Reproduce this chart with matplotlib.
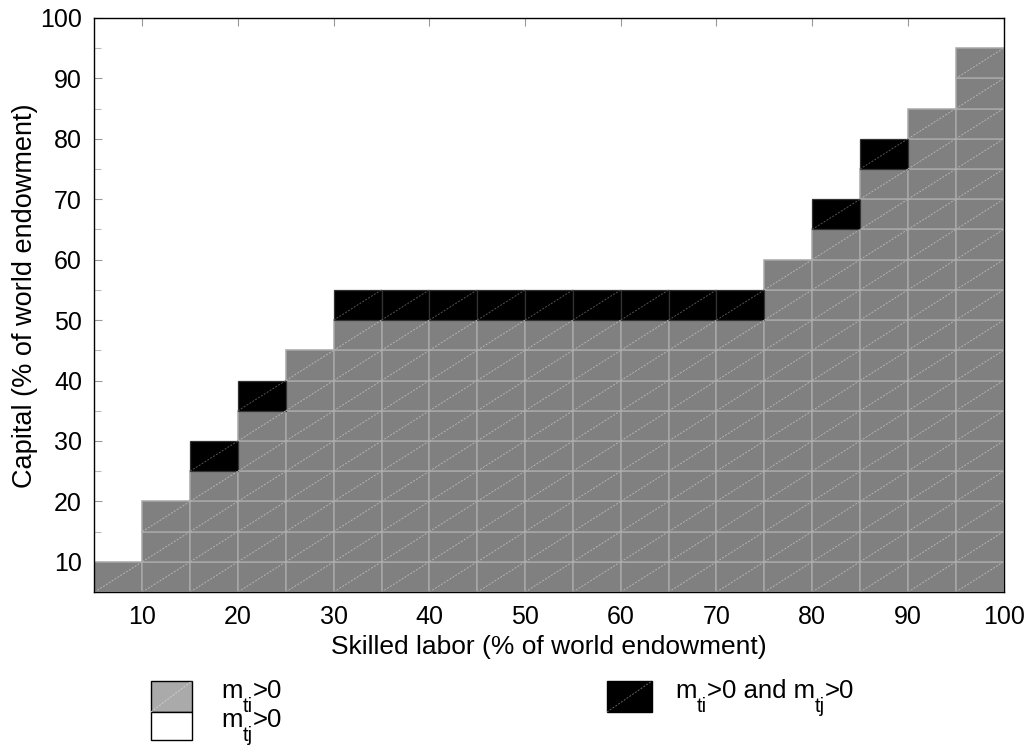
import numpy as np
import matplotlib
matplotlib.use("Agg")
import matplotlib.pyplot as plt
from matplotlib.patches import Rectangle
from matplotlib.collections import LineCollection

plt.rcParams["font.family"] = ["Liberation Sans", "DejaVu Sans"]

# skilled labor cell left edges (% of world endowment)
skilled = [5, 10, 15, 20, 25, 30, 35, 40, 45, 50, 55, 60, 65, 70, 75, 80, 85, 90, 95]
# top of region where m_ti>0 only
grey_top = [10, 20, 25, 35, 45, 50, 50, 50, 50, 50, 50, 50, 50, 50, 60, 65, 75, 85, 95]
# one extra cell above with m_ti>0 and m_tj>0
both = [0, 0, 1, 1, 0, 1, 1, 1, 1, 1, 1, 1, 1, 1, 0, 1, 1, 0, 0]

step = 5
y0 = 5

fig = plt.figure(figsize=(10.31, 7.46), dpi=100)
ax = fig.add_axes([0.0916, 0.2064, 0.8818, 0.7695])

gx, gy = [], []
bx, by = [], []
for x, top, b in zip(skilled, grey_top, both):
    for y in np.arange(y0, top, step):
        gx.append(x)
        gy.append(y)
    if b:
        bx.append(x)
        by.append(top)
gx, gy, bx, by = map(np.array, (gx, gy, bx, by))

ax.bar(gx, step, bottom=gy, width=step, align="edge", color="#808080",
       edgecolor="#a8a8a8", linewidth=1.1, zorder=2)
ax.bar(bx, step, bottom=by, width=step, align="edge", color="#000000",
       edgecolor="#333333", linewidth=0.9, zorder=2)

diag_g = [[(x, y), (x + step, y + step)] for x, y in zip(gx, gy)]
diag_b = [[(x, y), (x + step, y + step)] for x, y in zip(bx, by)]
ax.add_collection(LineCollection(diag_g, colors="#b4b4b4", linewidths=0.7,
                                 linestyles=(0, (2, 1.5)), zorder=3))
ax.add_collection(LineCollection(diag_b, colors="#555555", linewidths=0.7,
                                 linestyles=(0, (2, 1.5)), zorder=3))

ax.set_xlim(5, 100)
ax.set_ylim(5, 100)
ax.set_xticks(np.arange(10, 101, 10))
ax.set_yticks(np.arange(10, 101, 10))
ax.set_yticks(np.arange(5, 100, 10), minor=True)
ax.tick_params(axis="both", which="major", direction="in", length=6,
               width=0.8, color="#999999", labelsize=18, top=True, right=True, pad=9)
ax.tick_params(axis="y", which="minor", direction="in", length=5,
               width=0.8, color="#bbbbbb", left=True, right=True)
for sp in ax.spines.values():
    sp.set_linewidth(1.0)
    sp.set_zorder(5)

ax.set_xlabel("Skilled labor (% of world endowment)", fontsize=19, labelpad=5)
ax.set_ylabel("Capital (% of world endowment)", fontsize=19.5)
ax.yaxis.set_label_coords(-0.062, 0.516)

# legend drawn in figure pixels
W, H = 1031, 746
renderer = fig.canvas.get_renderer()


def fig_rect(x0, y0_, x1, y1, fc):
    r = Rectangle((x0 / W, 1 - y1 / H), (x1 - x0) / W, (y1 - y0_) / H,
                  transform=fig.transFigure, facecolor=fc, edgecolor="#000000",
                  linewidth=1.0)
    fig.add_artist(r)


def fig_diag(x0, y0_, x1, y1, c):
    fig.add_artist(plt.Line2D([x0 / W, x1 / W], [1 - y1 / H, 1 - y0_ / H],
                              transform=fig.transFigure, color=c,
                              linewidth=0.7, linestyle=(0, (2, 1.5))))


def sub_label(x, base, parts, size=18.5, sub_size=14.5, drop=14):
    # parts: list of (text, is_subscript)
    for s, is_sub in parts:
        yy = base + drop if is_sub else base
        t = fig.text(x / W, 1 - yy / H, s, fontsize=sub_size if is_sub else size,
                     va="baseline", ha="left")
        x += t.get_window_extent(renderer).width


fig_rect(151, 681, 192, 712, "#aaaaaa")
fig_diag(151, 681, 192, 712, "#cfcfcf")
fig_rect(151, 712, 192, 740, "#ffffff")
fig_rect(607, 681, 652, 712, "#000000")
fig_diag(607, 681, 652, 712, "#666666")

sub_label(221, 698, [("m", False), ("ti", True), (">0", False)])
sub_label(221, 727, [("m", False), ("tj", True), (">0", False)])
sub_label(675, 698, [("m", False), ("ti", True), (">0 and m", False),
                     ("tj", True), (">0", False)])

fig.savefig("out.png", dpi=100)
